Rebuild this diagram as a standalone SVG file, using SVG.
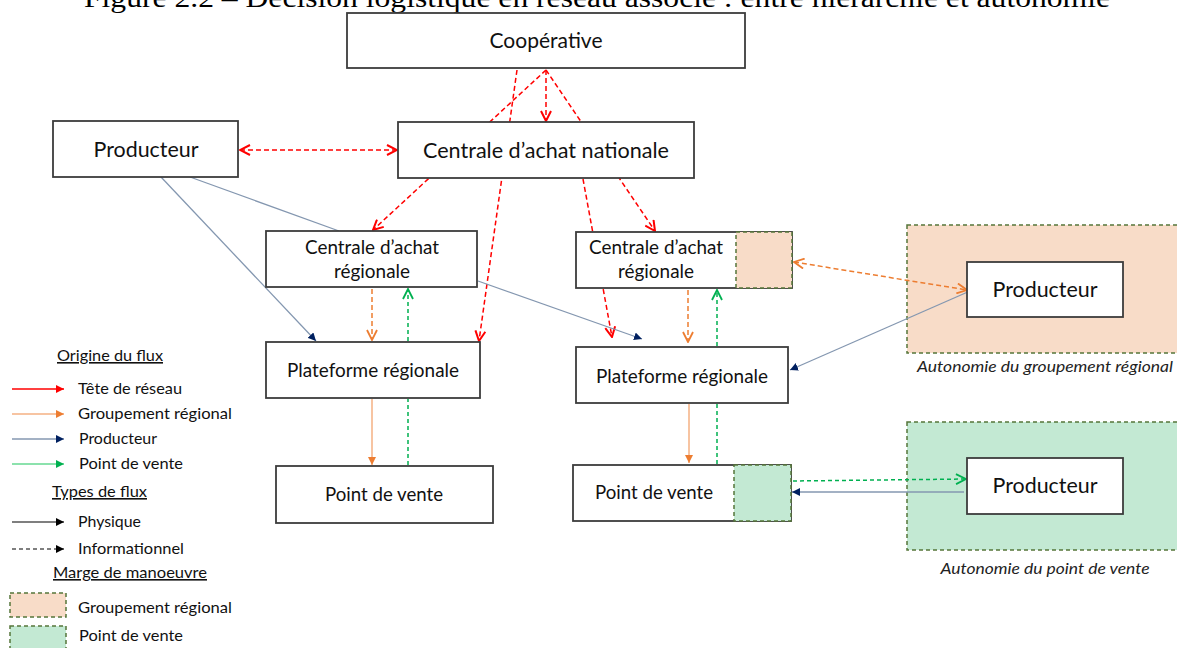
<svg xmlns="http://www.w3.org/2000/svg" width="1177" height="648" viewBox="0 0 1177 648">
<style>
.box{fill:#fff;stroke:#3c3c3c;stroke-width:1.8}
.t20{font-family:Lato,"Liberation Sans",sans-serif;font-size:21px;fill:#111;text-anchor:middle}
.t18{font-family:Lato,"Liberation Sans",sans-serif;font-size:18.5px;fill:#111;text-anchor:middle}
.lg{font-family:Lato,"Liberation Sans",sans-serif;font-size:16px;fill:#111}
.it{font-family:Lato,"Liberation Sans",sans-serif;font-size:16px;font-style:italic;fill:#222;text-anchor:middle}
.peach{fill:#F8DCC8;stroke:#56763A;stroke-width:1.5;stroke-dasharray:4 3}
.mint{fill:#C3E9D3;stroke:#56763A;stroke-width:1.5;stroke-dasharray:4 3}
.red{fill:none;stroke:#FF0000;stroke-width:1.5;stroke-dasharray:5 3}
.ord{fill:none;stroke:#ED7D31;stroke-width:1.5;stroke-dasharray:5 3}
.grd{fill:none;stroke:#00B050;stroke-width:1.5;stroke-dasharray:4 3}
.ors{fill:none;stroke:#F4B183;stroke-width:1.5}
.blu{fill:none;stroke:#8497B0;stroke-width:1.3}
</style>
<defs>
<marker id="vR" viewBox="0 0 12 12" refX="11" refY="6" markerWidth="12" markerHeight="12" markerUnits="userSpaceOnUse" orient="auto-start-reverse"><path d="M1,1 L11,6 L1,11" fill="none" stroke="#FF0000" stroke-width="2"/></marker>
<marker id="vO" viewBox="0 0 12 12" refX="11" refY="6" markerWidth="12" markerHeight="12" markerUnits="userSpaceOnUse" orient="auto-start-reverse"><path d="M1,1 L11,6 L1,11" fill="none" stroke="#ED7D31" stroke-width="1.8"/></marker>
<marker id="vG" viewBox="0 0 12 12" refX="11" refY="6" markerWidth="12" markerHeight="12" markerUnits="userSpaceOnUse" orient="auto-start-reverse"><path d="M1,1 L11,6 L1,11" fill="none" stroke="#00B050" stroke-width="1.8"/></marker>
<marker id="tN" viewBox="0 0 10 10" refX="10" refY="5" markerWidth="8" markerHeight="8" markerUnits="userSpaceOnUse" orient="auto"><path d="M0,0 L10,5 L0,10 z" fill="#002060"/></marker>
<marker id="tO" viewBox="0 0 10 10" refX="10" refY="5" markerWidth="8" markerHeight="8" markerUnits="userSpaceOnUse" orient="auto"><path d="M0,0 L10,5 L0,10 z" fill="#ED7D31"/></marker>
<marker id="tR" viewBox="0 0 10 10" refX="10" refY="5" markerWidth="8" markerHeight="8" markerUnits="userSpaceOnUse" orient="auto"><path d="M0,0 L10,5 L0,10 z" fill="#FF0000"/></marker>
<marker id="tG" viewBox="0 0 10 10" refX="10" refY="5" markerWidth="8" markerHeight="8" markerUnits="userSpaceOnUse" orient="auto"><path d="M0,0 L10,5 L0,10 z" fill="#00B050"/></marker>
<marker id="tK" viewBox="0 0 10 10" refX="10" refY="5" markerWidth="8" markerHeight="8" markerUnits="userSpaceOnUse" orient="auto"><path d="M0,0 L10,5 L0,10 z" fill="#000"/></marker>
</defs>
<rect width="1177" height="648" fill="#fff"/>
<text x="84" y="7" font-family="'Liberation Serif',serif" font-size="27" fill="#000" textLength="1026" lengthAdjust="spacingAndGlyphs">Figure 2.2 – Décision logistique en réseau associé : entre hiérarchie et autonomie</text>

<g id="zone-groupement">
<rect class="peach" x="907" y="225" width="280" height="128"/>
<text class="it" x="1045" y="372" textLength="256" lengthAdjust="spacingAndGlyphs">Autonomie du groupement régional</text>
</g>
<g id="zone-point-de-vente">
<rect class="mint" x="907" y="422" width="280" height="128"/>
<text class="it" x="1045" y="574" textLength="209" lengthAdjust="spacingAndGlyphs">Autonomie du point de vente</text>
</g>

<g id="connectors">
<line class="red" x1="546" y1="70" x2="546" y2="121" marker-end="url(#vR)"/>
<line class="red" x1="546" y1="70" x2="373" y2="230" marker-end="url(#vR)"/>
<line class="red" x1="517" y1="70" x2="479" y2="341" marker-end="url(#vR)"/>
<line class="red" x1="546" y1="70" x2="655" y2="231" marker-end="url(#vR)"/>
<line class="red" x1="583" y1="179" x2="612" y2="337" marker-end="url(#vR)"/>
<line class="red" x1="240" y1="150" x2="397" y2="150" marker-start="url(#vR)" marker-end="url(#vR)"/>
<line class="blu" x1="161" y1="177" x2="316" y2="341" marker-end="url(#tN)"/>
<line class="blu" x1="190" y1="177" x2="339" y2="231"/>
<line class="blu" x1="478" y1="281" x2="642" y2="339" marker-end="url(#tN)"/>
<line class="blu" x1="970" y1="291" x2="790" y2="370" marker-end="url(#tN)"/>
<line class="blu" x1="964" y1="492" x2="792" y2="492" marker-end="url(#tN)"/>
<line class="ord" x1="372" y1="289" x2="372" y2="340" marker-end="url(#vO)"/>
<line class="ord" x1="688" y1="290" x2="688" y2="342" marker-end="url(#vO)"/>
<line class="ord" x1="794" y1="262" x2="967" y2="290" marker-start="url(#vO)" marker-end="url(#vO)"/>
<line class="ors" x1="372" y1="399" x2="372" y2="465" marker-end="url(#tO)"/>
<line class="ors" x1="689" y1="404" x2="689" y2="463" marker-end="url(#tO)"/>
<line class="grd" x1="408" y1="341" x2="408" y2="289" marker-end="url(#vG)"/>
<line class="grd" x1="717" y1="346" x2="717" y2="290" marker-end="url(#vG)"/>
<line class="grd" x1="408" y1="465" x2="408" y2="399"/>
<line class="grd" x1="717" y1="464" x2="717" y2="404"/>
<line class="grd" x1="793" y1="481" x2="966" y2="479" marker-end="url(#vG)"/>
</g>

<g id="cooperative">
<rect class="box" x="347" y="13" width="398" height="55"/>
<text class="t20" x="546" y="48" textLength="113" lengthAdjust="spacingAndGlyphs">Coopérative</text>
</g>
<g id="producteur-1">
<rect class="box" x="53" y="121" width="185" height="56"/>
<text class="t20" x="146" y="157" textLength="105" lengthAdjust="spacingAndGlyphs">Producteur</text>
</g>
<g id="centrale-nationale">
<rect class="box" x="398" y="122" width="296" height="56"/>
<text class="t20" x="546" y="158" textLength="246" lengthAdjust="spacingAndGlyphs">Centrale d’achat nationale</text>
</g>
<g id="centrale-regionale-1">
<rect class="box" x="266" y="231" width="211" height="56"/>
<text class="t18" x="372" y="254" textLength="134" lengthAdjust="spacingAndGlyphs">Centrale d’achat</text>
<text class="t18" x="372" y="278" textLength="76" lengthAdjust="spacingAndGlyphs">régionale</text>
</g>
<g id="centrale-regionale-2">
<rect class="box" x="576" y="232" width="216" height="56"/>
<rect class="peach" x="736" y="232" width="56" height="56" stroke="#3E5A28"/>
<text class="t18" x="656" y="254" textLength="134" lengthAdjust="spacingAndGlyphs">Centrale d’achat</text>
<text class="t18" x="656" y="278" textLength="76" lengthAdjust="spacingAndGlyphs">régionale</text>
</g>
<g id="plateforme-1">
<rect class="box" x="266" y="342" width="214" height="56"/>
<text class="t18" x="373" y="377" textLength="172" lengthAdjust="spacingAndGlyphs">Plateforme régionale</text>
</g>
<g id="plateforme-2">
<rect class="box" x="576" y="347" width="212" height="56"/>
<text class="t18" x="682" y="383" textLength="172" lengthAdjust="spacingAndGlyphs">Plateforme régionale</text>
</g>
<g id="point-de-vente-1">
<rect class="box" x="276" y="466" width="217" height="57"/>
<text class="t18" x="384" y="501" textLength="118" lengthAdjust="spacingAndGlyphs">Point de vente</text>
</g>
<g id="point-de-vente-2">
<rect class="box" x="573" y="465" width="218" height="56"/>
<rect class="mint" x="734" y="465" width="57" height="56" stroke="#3E5A28"/>
<text class="t18" x="654" y="499" textLength="118" lengthAdjust="spacingAndGlyphs">Point de vente</text>
</g>
<g id="producteur-2">
<rect class="box" x="967" y="262" width="156" height="55"/>
<text class="t20" x="1045" y="297" textLength="105" lengthAdjust="spacingAndGlyphs">Producteur</text>
</g>
<g id="producteur-3">
<rect class="box" x="967" y="458" width="156" height="56"/>
<text class="t20" x="1045" y="493" textLength="105" lengthAdjust="spacingAndGlyphs">Producteur</text>
</g>

<g id="legend">
<text class="lg" x="57" y="361" text-decoration="underline" textLength="106" lengthAdjust="spacingAndGlyphs">Origine du flux</text>
<line x1="12" y1="389" x2="64" y2="389" stroke="#FF0000" stroke-width="1.5" marker-end="url(#tR)"/>
<text class="lg" x="78" y="394" textLength="104" lengthAdjust="spacingAndGlyphs">Tête de réseau</text>
<line x1="12" y1="414" x2="64" y2="414" stroke="#F4B183" stroke-width="1.5" marker-end="url(#tO)"/>
<text class="lg" x="78" y="419" textLength="154" lengthAdjust="spacingAndGlyphs">Groupement régional</text>
<line x1="12" y1="439" x2="64" y2="439" stroke="#8497B0" stroke-width="1.5" marker-end="url(#tN)"/>
<text class="lg" x="79" y="444" textLength="78" lengthAdjust="spacingAndGlyphs">Producteur</text>
<line x1="12" y1="464" x2="64" y2="464" stroke="#66D992" stroke-width="1.5" marker-end="url(#tG)"/>
<text class="lg" x="79" y="469" textLength="104" lengthAdjust="spacingAndGlyphs">Point de vente</text>
<text class="lg" x="52" y="497" text-decoration="underline" textLength="95" lengthAdjust="spacingAndGlyphs">Types de flux</text>
<line x1="12" y1="522" x2="64" y2="522" stroke="#000" stroke-width="1.2" marker-end="url(#tK)"/>
<text class="lg" x="78" y="527" textLength="63" lengthAdjust="spacingAndGlyphs">Physique</text>
<line x1="12" y1="549" x2="64" y2="549" stroke="#000" stroke-width="1.2" stroke-dasharray="4 3" marker-end="url(#tK)"/>
<text class="lg" x="78" y="554" textLength="106" lengthAdjust="spacingAndGlyphs">Informationnel</text>
<text class="lg" x="53" y="578" text-decoration="underline" textLength="154" lengthAdjust="spacingAndGlyphs">Marge de manoeuvre</text>
<rect class="peach" x="10" y="593" width="56" height="24"/>
<text class="lg" x="78" y="613" textLength="154" lengthAdjust="spacingAndGlyphs">Groupement régional</text>
<rect class="mint" x="10" y="626" width="56" height="26"/>
<text class="lg" x="79" y="641" textLength="104" lengthAdjust="spacingAndGlyphs">Point de vente</text>
</g>
</svg>
